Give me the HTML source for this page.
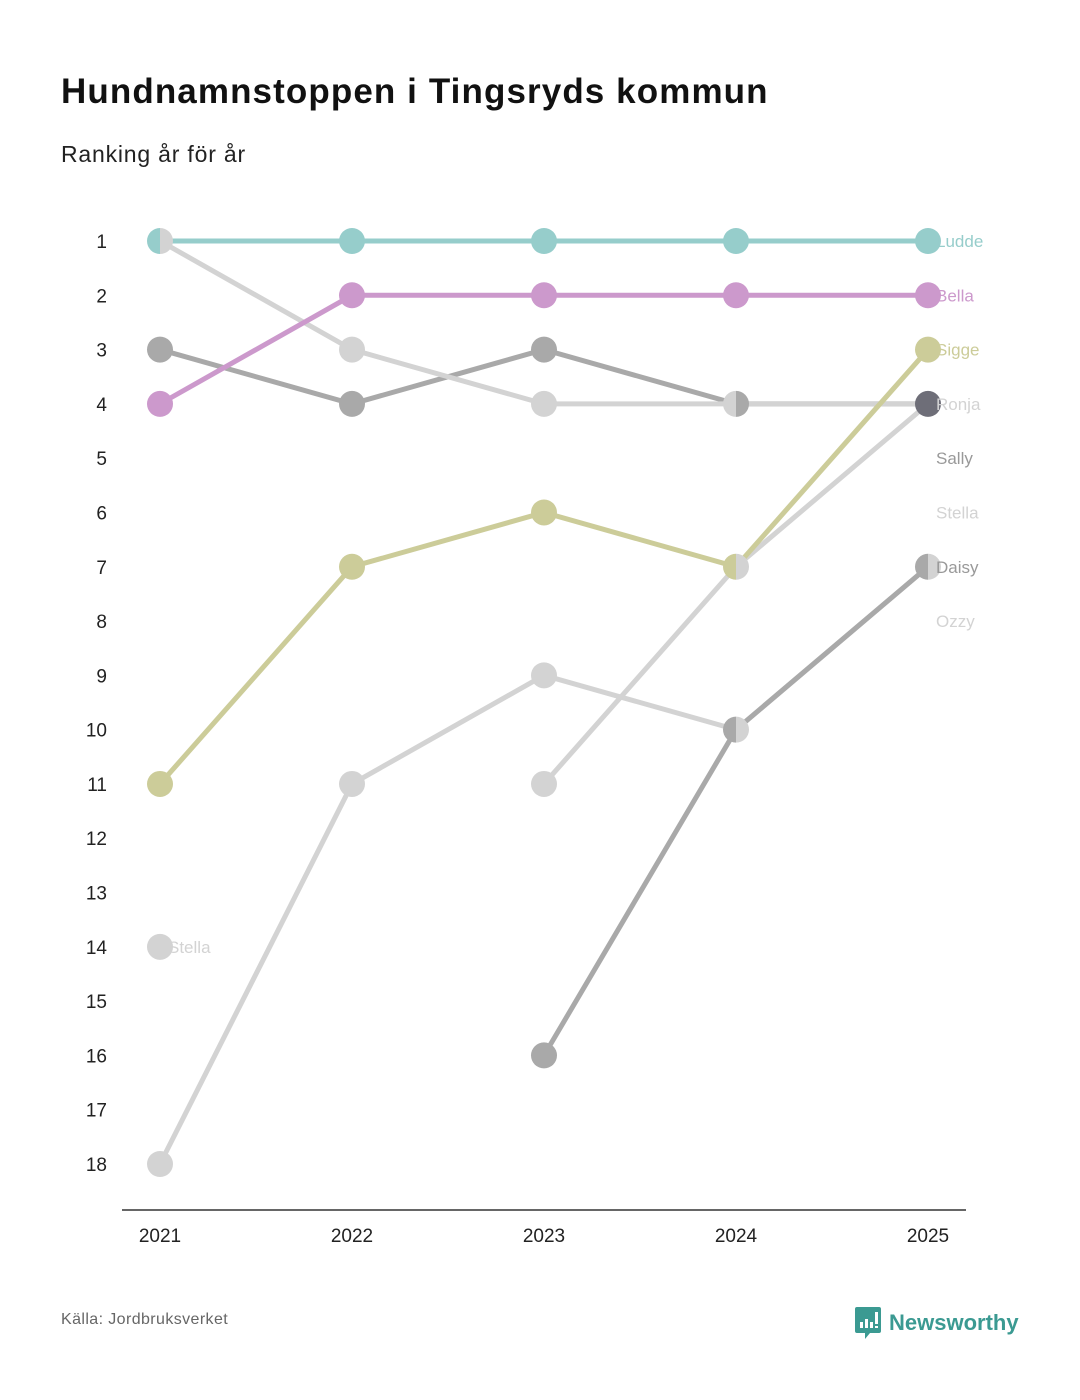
<!DOCTYPE html>
<html><head><meta charset="utf-8"><style>
body{margin:0;background:#fff;font-family:"Liberation Sans",sans-serif;}
#wrap{position:relative;width:1080px;height:1400px;overflow:hidden;}
h1{position:absolute;left:61px;top:72px;margin:0;font-size:35px;font-weight:bold;color:#111;letter-spacing:1.1px;}
.sub{position:absolute;left:61px;top:141px;font-size:23px;color:#222;letter-spacing:0.8px;}
.src{position:absolute;left:61px;top:1311px;font-size:16px;color:#666;letter-spacing:0.4px;}
.logo{position:absolute;left:855px;top:1307px;display:flex;align-items:center;}
.logo span{font-size:22px;font-weight:bold;color:#3b9a92;margin-left:8px;}
</style></head><body>
<div id="wrap">
<h1>Hundnamnstoppen i Tingsryds kommun</h1>
<div class="sub">Ranking år för år</div>
<svg id="chart" width="1080" height="1400" style="position:absolute;left:0;top:0"></svg>
<div class="src">Källa: Jordbruksverket</div>
<div class="logo">
<svg width="26" height="32" viewBox="0 0 26 32"><path d="M2 0h22a2 2 0 0 1 2 2v22a2 2 0 0 1-2 2H15l-5 6v-6H2a2 2 0 0 1-2-2V2a2 2 0 0 1 2-2z" fill="#3b9a92"/><rect x="5" y="15" width="3" height="6" fill="#fff"/><rect x="10" y="12" width="3" height="9" fill="#fff"/><rect x="15" y="15" width="3" height="6" fill="#fff"/><rect x="20" y="5" width="3" height="12" fill="#fff"/><rect x="20" y="19" width="3" height="2" fill="#fff"/></svg>
<span>Newsworthy</span></div>
</div>
<script>
const years=[2021,2022,2023,2024,2025];
const yTicks=[1,2,3,4,5,6,7,8,9,10,11,12,13,14,15,16,17,18];
const names=["Ludde","Bella","Sigge","Ronja","Sally","Daisy","Ozzy","Stella"];
const colors=["#96cdcb","#cc99cc","#cccc99","#d3d3d3","#a9a9a9","#a9a9a9","#d3d3d3","#d3d3d3"];
const ludde=[1,1,1,1,1];
const bella=[4,2,2,2,2];
const sigge=[11,7,6,7,3];
const ronja=[1,3,4,4,4];
const sally=[3,4,3,4,4];
const daisy=[null,null,16,10,7];
const ozzy=[null,null,11,7,4];
const stella=[18,11,9,10,7];
const series=[ludde,bella,sigge,ronja,sally,daisy,ozzy,stella];
const labelRanks=[1,2,3,4,5,7,8,6];
const labelColors=["#96cdcb","#cc99cc","#cccc99","#d3d3d3","#999","#999","#d3d3d3","#d3d3d3"];
const extraName="Stella";const extraYear=2021;const extraRank=14;

const svg=document.getElementById('chart');const NS="http://www.w3.org/2000/svg";
const x=y=>160+(y-2021)*192;
const yS=r=>241+(r-1)*(1164-241)/17;
function el(t,a,p){const e=document.createElementNS(NS,t);for(const k in a)e.setAttribute(k,a[k]);(p||svg).appendChild(e);return e;}
yTicks.forEach(t=>{const e=el('text',{x:107,y:yS(t)+7,'text-anchor':'end','font-size':19,fill:'#222'});e.textContent=t;

});
const ax=el('line',{x1:122,x2:966,y1:1210,y2:1210,stroke:'#333','stroke-width':1.5});


years.forEach(yr=>{const e=el('text',{x:x(yr),y:1242,'text-anchor':'middle','font-size':19,fill:'#222'});e.textContent=yr;

});
const order=[7,6,5,4,3,2,1,0];
order.forEach(i=>{const s=series[i];let d="";let pen=false;
s.forEach((v,j)=>{if(v==null){pen=false;return;}d+=(pen?"L":"M")+x(years[j])+" "+yS(v);pen=true;});
const p=el('path',{d:d,fill:'none',stroke:colors[i],'stroke-width':5});

});
const pts={};
series.forEach((s,i)=>s.forEach((v,j)=>{if(v==null)return;const k=j+"_"+v;(pts[k]=pts[k]||[]).push(i);}));
const R=13;
for(const k in pts){const [j,v]=k.split('_').map(Number);const cx=x(years[j]),cy=yS(v),ids=pts[k];
if(ids.length===1||ids.length>=3){const c=el('circle',{cx:cx,cy:cy,r:R,fill:ids.length>=3?'#6e6e78':colors[ids[0]]});

}
else{const a=el('path',{d:`M${cx} ${cy-R}A${R} ${R} 0 0 0 ${cx} ${cy+R}Z`,fill:colors[ids[0]]});


const b=el('path',{d:`M${cx} ${cy-R}A${R} ${R} 0 0 1 ${cx} ${cy+R}Z`,fill:colors[ids[1]]});

}}
const ex=el('circle',{cx:x(extraYear),cy:yS(extraRank),r:R,fill:'#d3d3d3'});


const et=el('text',{x:x(extraYear)+8,y:yS(extraRank)+6,'font-size':17,fill:'#d3d3d3'});et.textContent=extraName;


names.forEach((n,i)=>{const t=el('text',{x:936,y:yS(labelRanks[i])+6,'font-size':17,fill:labelColors[i]});t.textContent=n;

});
</script>
</body></html>
